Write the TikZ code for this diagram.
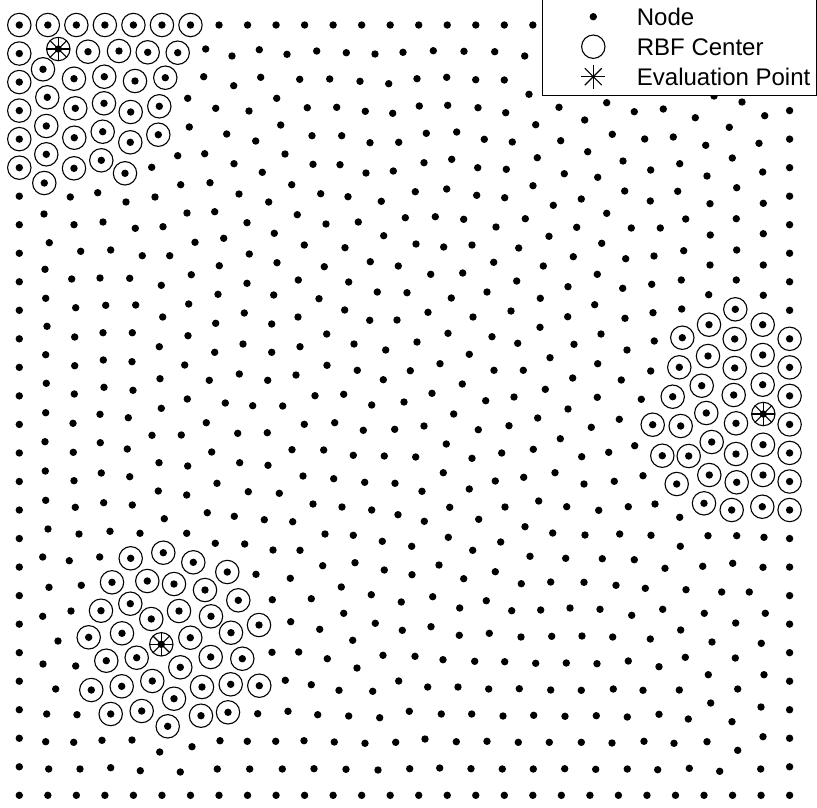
\documentclass[tikz,border=0pt]{standalone}
\usepackage{fontspec}
\setmainfont{Liberation Sans}
\usetikzlibrary{calc}
\begin{document}
\def\freedots{189.3/127, 187.7/98.3, 177.7/155.7, 151.7/167.3, 180.7/184.7,
205.7/49, 232/56, 259.3/49.7, 287/54.3, 316.7/51, 346.3/52.7, 375/54, 403/52.3, 433.3/50.7, 464/51.3, 494.7/51.7, 524.7/56,
203.7/76.7, 233.7/85.7, 260.7/77.3, 299.7/79.3, 329.7/79, 360/81.3, 388.7/83.7, 417/78.7, 446.7/77.3, 475.7/79.7, 504.3/80, 529/94.3,
276.7/98.3, 215.7/108.3, 249/111, 307.3/107.7, 336.7/107.3, 365.3/111.3, 392.7/113.3, 419.3/106, 447.7/105.3, 478/107.7, 505.7/112.7, 535.7/124.7,
226.7/134, 255.7/141, 280.7/125, 312/135.7, 341.7/135.7, 370/142.7, 398.7/142.3, 426.3/133.3, 456.7/132, 484.3/139.3, 512.3/142,
204.7/153.7, 234/163.7, 262.3/172.3, 285/154, 313/164.3, 340/164.7, 366/173, 393.3/171, 424/162.7, 451.7/159.3, 477.7/167.7, 506.3/169.3, 537.3/157.7,
210/182.7, 291.7/184.7, 446.7/189, 533/185.7,
559/107.3, 606.7/102.7, 584.7/120, 634.3/111.7, 663.3/109, 695.3/117.7, 714/96, 742/102, 729.3/127.3, 764.7/115.7,
560.7/140.7, 612.3/134.3, 587.7/151.7, 644.7/139, 673.3/137, 705.7/145.3, 759/143.3,
623/161, 650.7/170, 679.7/163.7, 732.3/158, 564.3/173.7, 597.7/177.3, 707/176, 762.7/172,
624.7/191, 677.7/191.3, 736.7/187.7, 581.3/199, 553.3/205.3, 650.3/201, 710/203.7, 763.3/203.3,
606.7/213.3, 685.7/219, 736.3/218.7, 576.7/227.3, 549/236.3, 631.3/228, 660.3/228, 710.3/235, 763.3/233.7,
601.7/243.3, 683.7/250.7, 736.7/250, 573.3/256.7, 543.3/266, 625.7/258.7, 654/256, 710/265, 763.3/265,
597.3/274.3, 681.3/280, 736.3/280, 568/286.7, 622.7/288.3, 651.7/284.3,
70.3/197, 97.7/192.7, 126/202, 155/197, 239/194, 268.7/202,
44/214, 187/213, 214.7/211.7,
74/224.7, 103/222, 135.3/228.3, 163/226.7, 247/222.7,
49.3/242.7, 195/242.3, 223.7/238.3,
80.7/251.3, 110.7/250, 142.3/255.7, 169.7/255.7, 249.3/254,
45/269.3, 219.3/265.7, 191.3/274.7,
71.7/279, 100/278, 129.7/278.3, 161.3/285.3, 247/283.3,
45.7/298.3, 218/294.3, 188.7/304,
75.7/307.7, 105.7/305.3, 135.7/305, 162.7/317, 244.3/313,
47/326.3, 215.7/323.3, 188/335.7,
74.7/337, 103/332.7, 132.3/332.7, 159.3/346.7, 243/344,
45.7/354.7, 214.7/352.3, 184.7/365,
74.7/365.7, 103.3/360, 132/361.7, 160/378.7, 239.3/374, 209.3/380.3, 267.7/380.3,
46.3/383.3, 74.3/394, 104/387.3, 133/390.3, 187.3/399, 225.3/403, 252.7/405.7, 161.3/408.3,
45.7/412.7, 100/414.3, 128.3/417.7, 73/423.3, 206.3/422.7, 45/441.7, 152/435.3, 181.3/435, 237.7/433.3, 267.3/432.7,
100.3/442.7, 73.3/452.3, 127.3/449, 211.7/452, 159/462.7, 187.7/466, 239.7/462.7, 268/465.3, 45.3/471, 101.3/473,
74/480.7, 129.7/476.7, 217/483.3, 158.3/491, 186.7/495, 248.3/491.7, 45.7/500.3, 103.7/502.7, 75.3/507.3, 132.3/505,
207.3/512.7, 234.3/516.3, 264.3/519.7, 164.3/518.7, 48/529, 42.7/557, 49/587.3, 42.7/616.3,
79/534, 110/531.3, 140/533.3, 186.7/533.3, 215.3/543.3, 244.7/544, 69.3/560.7, 99.7/557, 256/574.3, 81.3/585.3, 71/611,
58/641, 43/664, 75.7/666, 55.7/689, 46.7/714, 77/714.7, 257.7/713.7, 45.7/741.7, 73.7/742.3, 102/740.3, 132/740,
159.7/752, 192/746.7, 220/740.7, 247.3/741.3, 48.7/769, 80/769, 110.7/767.7, 140.3/770.7, 180.3/772, 217.3/769, 249.7/769,
320.7/193.7, 348/196.7, 381.3/201.3, 415.3/191.7, 476.7/195.3, 504.7/197.7,
297.3/214.7, 326/224, 358.3/222, 405.3/217.7, 435.3/216.7, 463.7/219.3, 496/227, 525.3/218.7,
274.3/233.3, 383.7/235.7, 304.3/245, 345/247.7, 416/244, 443.7/247, 472/245, 518.7/248,
277/262.7, 324.3/266.7, 370.3/261.7, 398.3/266, 430.7/274.3, 462.7/273, 493.7/262.3,
298.3/280, 348.7/282, 516.7/281, 273.7/295, 319/298.7, 377.3/292, 407/292.7, 451.3/298, 487/292, 540.3/298.3, 594.7/304.7,
344.7/310, 428/312.3, 511/311, 298/317, 369.7/320.3, 397/320, 473/317, 567.7/316.7, 625/318.3, 540/327.3, 271.7/324,
326.7/334, 448/333.3, 492/336.7, 601/334, 354/344, 417/342, 517.7/343.3, 574/344.3, 300/346.7, 385.7/350, 271.7/352.3,
627/350, 469.3/354.3, 550/357.7, 327/365.3, 440/363.7, 597.7/363.7, 357.3/370.3, 410.3/370.7, 494/370.3, 523.3/370.3,
296/375, 383.3/379.7, 572.7/378, 621.3/380, 462.3/384, 545.3/389.3, 315/395.7, 343.7/394.3, 432/393.3, 514/397,
597.3/397.3, 282.7/406, 371.7/405, 404/402, 485.7/400.7,
453.7/414, 568/409, 304.3/424.3, 334.7/422.7, 363.3/430.3, 394.7/429.3, 424/426, 478.3/429.7, 509/425.7, 537.7/418, 591.3/427.3, 619.3/419.3,
560.3/438.7, 446.3/444, 292/449.7, 323.7/450, 353.3/455.3, 384.3/456, 415.7/457, 472/458.3, 501.7/453, 533.3/449.3, 581.7/456.7, 608.7/452.3,
443.3/472.7, 303/476, 333.7/478.7, 364.7/482.3, 395/483.3, 469.3/489, 495.3/481, 523.7/477.3, 555/472.7, 584/484, 614.3/481.3,
279.3/493.3, 313/504, 342/507, 371.7/510, 398/514.7, 422/491.3, 449.7/507.3, 505/507, 538.7/501, 566.7/506.7, 598.7/510.3, 628.3/506.7,
292.7/521.7, 424.3/521.3, 478.7/519.3, 525/526.7,
325/534, 353.3/535.3, 382.3/541.3, 411.7/546.3, 448.3/537.3, 500.7/542, 552.7/533, 585/535,
273/550, 300/550.3, 472.7/550.3, 530/556.3, 565.7/558.3, 602.3/558.7,
322.7/565.7, 355/562.7, 384.3/570, 412/574.7, 439/565, 463.7/578.7, 495.3/571.7, 521.3/583.7, 550.7/582, 584/582.3,
290.3/578.3, 341.3/587, 371.3/594.7, 401.3/602, 432.7/596.7, 459.7/608, 486.3/600.7, 511.7/610.7, 540.7/610, 570/608, 600/609.3,
272.3/599.7, 311.3/598.7, 343.7/613.3, 290.7/621.7, 319.7/629.3, 375.3/623.3, 402.3/630.3, 431/626.7, 459.3/635.3, 489.3/633.3, 521/637, 551.7/636.3, 582/636,
352.7/640.3, 272/652.3, 298.7/652, 327.3/658.7, 357/668, 383/655.3, 415/656.3, 443/659.7, 474.7/661.3, 504.7/661.7, 535.7/663.3, 566.3/663, 597/663.7,
285.3/680.3, 311.3/684.7, 339/690.3, 372.7/691.3, 398.7/681, 427.7/687, 458/687, 488.7/689, 519.3/688.7, 550.7/690, 581.3/690.3,
288/711.3, 317.7/714.7, 348.7/716, 379.7/717.7, 409.3/711.3, 441.3/714, 471.7/714, 503/716, 533.7/715.3, 565/716.3, 596.3/715.7,
275.7/741.3, 304/740.7, 334.3/742, 365/743.3, 395.7/742.3, 425/739, 456.3/741.7, 487/741.3, 518.3/742.3, 549.3/742.3, 581.3/742.3,
282.3/769, 314/768.7, 346/769.3, 378/770, 409.7/768.7, 439.7/768, 471/768.7, 502.3/769, 533.3/769, 564.7/768.7, 595.7/769.3,
628.3/661, 659/666.7, 685.3/657.3, 735.3/658, 708.3/674.7, 764/674.7, 613.3/689, 643/690.3, 679.3/690, 737.7/689, 710.7/703, 761/707,
627.3/717, 659/714.3, 688.3/719, 732/721.7, 612/743, 644/741.3, 674/743.3, 707/741.7, 763/736.7, 737.7/750.3,
627.3/769, 657.7/769.7, 689.3/768.3, 719.7/771.3, 760.7/769,
708.7/294.7, 763.3/295.3, 653/312.7, 681.7/309, 654.3/341, 650.7/371, 641.3/399.3, 634.7/445.7, 643/475.7, 655/504, 679.7/517.3,
619.7/534, 651/535.3, 708/535.7, 736.7/535.7, 764/537.3, 680.3/546.3, 634.3/559.7, 665/568.3, 702.7/566.3, 732.7/563.3, 763/567.3,
616/585.3, 645.3/588.3, 686/589.7, 721.7/592, 749.3/592, 631.7/615.3, 662.7/609.3, 704.3/613.3, 765.3/613.3, 735.7/623,
680.7/630, 612.7/637, 650.3/639, 712/642, 761.3/643.3}
\def\ringdots{58.3/49, 88/51.7, 119/51, 147.7/52.3, 177.7/52.7, 43/69.3, 74/78.7, 104.3/76.7, 135/81, 165.3/77.7,
47.3/97.3, 75.3/108.3, 104/103.3, 130.7/112, 159.3/106.3, 46.3/126, 74.3/137.7, 102.7/131.7, 130.3/142.3, 158.3/134.7,
46.3/154.3, 74/168.3, 101.3/160.3, 125/173.3, 44.3/183,
735.3/309.3, 709/324.7, 762.7/324.7, 682.3/337.7, 734.7/339, 708/356, 762.7/355, 679.3/367.3, 734.7/368, 701.7/385.7,
762.7/384.7, 672.7/396.7, 733.7/395, 706.3/413, 763.3/414, 652.7/424.7, 680.7/426, 736/423.3, 711.7/442, 763/444.7,
662.3/455.7, 688.7/456, 736/454, 709.3/475, 763/475, 676.7/484, 736.7/482.3, 704/503.3, 731.7/510, 762.3/506.7,
163.3/552.7, 130.7/558.3, 193.3/562.3, 227.3/572, 112/582.3, 147.3/581, 174/584, 205/590, 238.3/600.3, 130.3/603.7,
101/610.7, 179/611, 211/616.3, 151.3/619, 259/625, 88.7/637.3, 122/633.3, 190.3/637.7, 231/632.7, 161.3/644.3,
106.3/660.7, 136.7/657.7, 180.3/667.3, 210.7/657, 242.3/658.7, 91.3/690, 121.7/686.3, 152.3/681, 202/687, 230.7/684.3,
259.3/685.7, 174/698.7, 110.7/714, 141.7/711, 167.7/726.3, 201/715.7, 228/712.3}
\def\ringedge{19.3/25, 47.83/25, 76.36/25, 104.89/25, 133.42/25, 161.95/25, 190.48/25,
19.3/53.53, 19.3/82.06, 19.3/110.59, 19.3/139.12, 19.3/167.65,
789.6/338.8, 789.6/367.4, 789.6/395.9, 789.6/424.4, 789.6/452.9, 789.6/481.5, 789.6/510}
\def\evalpts{58.3/49, 763.3/414, 161.3/644.3}
\begin{tikzpicture}[x=1pt,y=-1pt,
  nodedot/.style={fill=black},
  ring/.style={draw=black,line width=1.1pt},
  star/.style={draw=black,line width=1.1pt},
  legendbox/.style={draw=black,fill=white,line width=1.1pt},
  legendtext/.style={anchor=base west,inner sep=0pt,font=\fontsize{24}{28}\selectfont}]
\path[use as bounding box] (0,0) rectangle (817,807);
% boundary nodes
\foreach \i in {0,...,27}{
  \fill[nodedot] ({19.3+28.53*\i},25) circle[radius=3.7pt];
  \fill[nodedot] ({19.3+28.53*\i},795.3) circle[radius=3.7pt];
}
\foreach \j in {1,...,26}{
  \fill[nodedot] (19.3,{25+28.53*\j}) circle[radius=3.7pt];
  \fill[nodedot] (789.6,{25+28.53*\j}) circle[radius=3.7pt];
}
% interior nodes
\foreach \x/\y in \freedots {\fill[nodedot] (\x,\y) circle[radius=3.7pt];}
\foreach \x/\y in \ringdots {\fill[nodedot] (\x,\y) circle[radius=3.7pt];
  \draw[ring] (\x,\y) circle[radius=11.7pt];}
\foreach \x/\y in \ringedge {\draw[ring] (\x,\y) circle[radius=11.7pt];}
% evaluation points
\foreach \x/\y in \evalpts {
  \foreach \a in {0,45,90,135}{
    \draw[star] ($(\x,\y)+(\a:12pt)$) -- ($(\x,\y)+(\a+180:12pt)$);
  }
}
% legend
\draw[legendbox] (542.7,-2) rectangle (816.4,95.3);
\fill[nodedot] (593.3,16.7) circle[radius=3.7pt];
\draw[ring] (593.3,46.7) circle[radius=11.7pt];
\foreach \a in {0,45,90,135}{
  \draw[star] ($(593.3,76.7)+(\a:12pt)$) -- ($(593.3,76.7)+(\a+180:12pt)$);
}
\node[legendtext] (lnode) at (636.7,25.3) {Node};
\node[legendtext] (lrbf) at (636.7,55.6) {RBF Center};
\node[legendtext] (leval) at (636.7,85.9) {Evaluation Point};
\end{tikzpicture}
\end{document}
